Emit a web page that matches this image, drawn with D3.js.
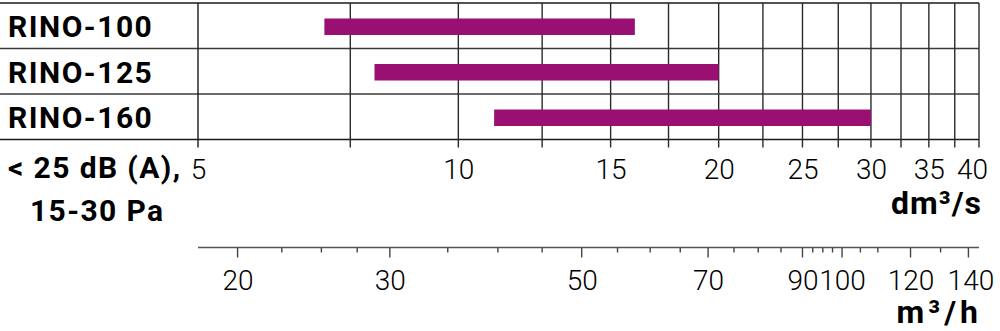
<!DOCTYPE html>
<html><head><meta charset="utf-8">
<script src="https://cdn.jsdelivr.net/npm/d3@7"></script>
<style>body{margin:0;background:#fff}svg{display:block}</style>
</head><body><svg id="c" width="1000" height="331"></svg>
<script>
const models = ["RINO-100", "RINO-125", "RINO-160"];
const flowMin = [7, 8, 11];
const flowMax = [16, 20, 30];
const dmGrid = [5, 7.5, 10, 12.5, 15, 17.5, 20, 22.5, 25, 27.5, 30, 32.5, 35, 37.5, 40];
const dmLabels = [5, 10, 15, 20, 25, 30, 35, 40];
const mhTicks = [20, 22.5, 25, 27.5, 30, 35, 40, 45, 50, 55, 60, 65, 70, 75, 80, 85, 90, 92.5, 95, 97.5, 100, 105, 110, 120, 130, 140];
const mhLabels = [20, 30, 50, 70, 90, 100, 120, 140];
const noteLines = ["< 25 dB (A),", "15-30 Pa"];
const unitDm = "dm³/s";
const unitMh = "m³/h";

const svg = d3.select("#c");
const L = 198, R = 979, T = 3, B = 139.5;
const x = d3.scaleLog().domain([5, 40]).range([L, R]);
const xm = d3.scaleLog().domain([5 * 3.6, 40 * 3.6]).range([L, R]);
const y = d3.scaleBand().domain(models).range([T, B]);

const FONT = "Roboto, 'Noto Sans', sans-serif";
const ink = "#1a1a1a";

// horizontal row lines
const hl = [T, ...models.slice(1).map(m => y(m)), B];
svg.selectAll("line.h").data(hl).join("line")
  .attr("x1", 0).attr("x2", R).attr("y1", d => d).attr("y2", d => d)
  .attr("stroke", (d, i) => (i === 0 || i === hl.length - 1) ? ink : "#3a3a3a")
  .attr("stroke-width", 1.5);

// vertical grid
svg.selectAll("line.v").data(dmGrid).join("line")
  .attr("x1", d => x(d)).attr("x2", d => x(d))
  .attr("y1", T).attr("y2", B + 8)
  .attr("stroke", (d, i) => i === 0 ? ink : "#2a2a2a")
  .attr("stroke-width", 1.4);

// bars
const barH = 16.5;
svg.selectAll("rect.bar").data(models).join("rect")
  .attr("x", (d, i) => x(flowMin[i]))
  .attr("width", (d, i) => x(flowMax[i]) - x(flowMin[i]))
  .attr("y", d => y(d) + y.bandwidth() / 2 - barH / 2 + 1)
  .attr("height", barH)
  .attr("fill", "#9a1072");

// model labels
svg.selectAll("text.model").data(models).join("text")
  .attr("x", 8).attr("y", d => y(d) + y.bandwidth() / 2 + 11.5)
  .attr("font-family", FONT).attr("font-weight", 700).attr("font-size", 30)
  .attr("letter-spacing", 1.5)
  .attr("fill", "#000").text(d => d);

// dm3/s axis labels
const axDm = d3.axisBottom(x).tickValues(dmLabels).tickSize(0).tickPadding(0)
  .tickFormat(d3.format("d"));
const gDm = svg.append("g").attr("transform", `translate(0,${B})`).call(axDm);
gDm.select(".domain").remove();
gDm.selectAll("text")
  .attr("font-family", FONT).attr("font-weight", 300).attr("font-size", 28)
  .attr("fill", "#000").attr("dy", null).attr("y", 39)
  .attr("dx", d => d === 40 ? -7 : 0);

// m3/h axis
const mhY = 247.5;
svg.append("line").attr("x1", L).attr("x2", R).attr("y1", mhY).attr("y2", mhY)
  .attr("stroke", "#555").attr("stroke-width", 1.6);
svg.selectAll("line.mt").data(mhTicks).join("line")
  .attr("x1", d => xm(d)).attr("x2", d => xm(d))
  .attr("y1", mhY).attr("y2", d => mhLabels.includes(d) ? mhY + 10 : mhY + 5)
  .attr("stroke", "#444").attr("stroke-width", 1.4);
const axMh = d3.axisBottom(xm).tickValues(mhLabels).tickSize(0).tickPadding(0)
  .tickFormat(d3.format("d"));
const gMh = svg.append("g").attr("transform", `translate(0,${mhY})`).call(axMh);
gMh.select(".domain").remove();
gMh.selectAll("text")
  .attr("font-family", FONT).attr("font-weight", 300).attr("font-size", 28)
  .attr("fill", "#000").attr("dy", null).attr("y", 42.5)
  .attr("dx", d => d === 140 ? 2 : 0);

// note text
svg.selectAll("text.note").data(noteLines).join("text")
  .attr("x", (d, i) => i === 0 ? 8 : 30).attr("y", (d, i) => i === 0 ? 178 : 221)
  .attr("font-family", FONT).attr("font-weight", 700).attr("font-size", 30)
  .attr("letter-spacing", 1.4)
  .attr("fill", "#000").text(d => d);

// units
svg.append("text").attr("x", 982).attr("y", 214).attr("text-anchor", "end")
  .attr("font-family", FONT).attr("font-weight", 700).attr("font-size", 32)
  .attr("letter-spacing", 1)
  .attr("fill", "#000").text(unitDm);
svg.append("text").attr("x", 982).attr("y", 323).attr("text-anchor", "end")
  .attr("font-family", FONT).attr("font-weight", 700).attr("font-size", 32)
  .attr("letter-spacing", 4)
  .attr("fill", "#000").text(unitMh);
</script></body></html>
